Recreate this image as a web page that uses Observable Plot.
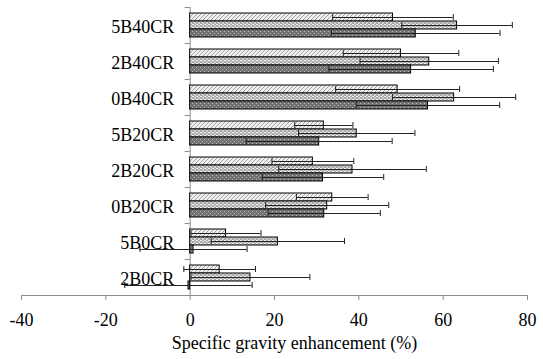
<!DOCTYPE html>
<html><head><meta charset="utf-8">
<script src="https://cdn.jsdelivr.net/npm/d3@7"></script>
<script src="https://cdn.jsdelivr.net/npm/@observablehq/plot@0.6"></script>
<style>
body{margin:0;background:#fff}
svg, svg text{font-family:"Liberation Serif","Times New Roman",serif}
</style>
</head><body><div id="chart"></div>
<script>
// Categories, top to bottom
const categories = ["5B40CR","2B40CR","0B40CR","5B20CR","2B20CR","0B20CR","5B0CR","2B0CR"];
const seriesNames = ["Series 1","Series 2","Series 3"];
// Mean values (%) per series, in category order
const series1 = [48.1, 50.0, 49.2, 31.7, 29.1, 33.7, 8.5, 7.0];
const series2 = [63.3, 56.7, 62.6, 39.5, 38.5, 32.5, 20.8, 14.3];
const series3 = [53.5, 52.4, 56.4, 30.6, 31.5, 31.8, 0.8, -0.4];
// Error (±) per series
const error1 = [14.3, 13.7, 14.7, 6.9, 9.7, 8.5, 8.3, 8.5];
const error2 = [13.1, 16.4, 14.6, 13.8, 17.5, 14.6, 15.8, 14.1];
const error3 = [20.0, 19.5, 17.0, 17.3, 14.4, 13.3, 12.7, 15.1];
const xTicks = [-40, -20, 0, 20, 40, 60, 80];
const xLabel = "Specific gravity enhancement (%)";

const valueSets = [series1, series2, series3];
const errorSets = [error1, error2, error3];
const fills = {"Series 1": "url(#pat1)", "Series 2": "url(#pat2)", "Series 3": "url(#pat3)"};

const rows = [];
categories.forEach((c, i) => {
  seriesNames.forEach((s, j) => {
    rows.push({cat: c, series: s, value: valueSets[j][i], err: errorSets[j][i]});
  });
});

const axisGray = "#8c8c8c";
const serif = "'Liberation Serif','Times New Roman',serif";

const chart = Plot.plot({
  width: 543,
  height: 359,
  marginTop: 4,
  marginBottom: 62,
  marginLeft: 21,
  marginRight: 16,
  style: {fontFamily: serif, fontSize: "18px", background: "white", color: "black"},
  x: {domain: [-40, 80], label: null},
  y: {domain: seriesNames, axis: null, paddingInner: 0, paddingOuter: 0.74},
  fy: {domain: categories, axis: null, padding: 0},
  color: {type: "identity"},
  marks: [
    Plot.ruleX([0], {stroke: axisGray}),
    Plot.barX(rows, {fy: "cat", y: "series", x: "value", fill: d => fills[d.series], stroke: "black", strokeWidth: 1}),
    Plot.ruleY(rows, {fy: "cat", y: "series", x1: d => d.value - d.err, x2: d => d.value + d.err, stroke: "#222", strokeWidth: 1}),
    Plot.tickX(rows, {fy: "cat", y: "series", x: d => d.value - d.err, stroke: "#222", insetTop: 1, insetBottom: 1}),
    Plot.tickX(rows, {fy: "cat", y: "series", x: d => d.value + d.err, stroke: "#222", insetTop: 1, insetBottom: 1}),
    Plot.text(categories, {fy: d => d, x: () => 0, text: d => d, textAnchor: "end", dx: -16, dy: 2, fontSize: 18, fontFamily: serif, fill: "black"}),
    Plot.axisX({ticks: xTicks, tickFormat: d => String(d), tickSize: 5, tickPadding: 13, stroke: axisGray, fill: "black", fontSize: 18, fontFamily: serif, label: null}),
    Plot.text([xLabel], {fy: () => categories[categories.length - 1], frameAnchor: "bottom", text: d => d, dy: 53, dx: 20, fontSize: 18, fontFamily: serif, fill: "black"})
  ]
});

const svg = d3.select(chart.tagName.toLowerCase() === "svg" ? chart : chart.querySelector("svg"));
const defs = svg.insert("defs", ":first-child");
// Pattern 1: light diagonal hatch
const p1 = defs.append("pattern").attr("id", "pat1").attr("patternUnits", "userSpaceOnUse").attr("width", 4).attr("height", 4);
p1.append("rect").attr("width", 4).attr("height", 4).attr("fill", "#f0f0f0");
p1.append("path").attr("d", "M0,4 L4,0 M-1,1 L1,-1 M3,5 L5,3").attr("stroke", "#9a9a9a").attr("stroke-width", 0.9);
// Pattern 2: light brick/checker
const p2 = defs.append("pattern").attr("id", "pat2").attr("patternUnits", "userSpaceOnUse").attr("width", 4).attr("height", 3);
p2.append("rect").attr("width", 4).attr("height", 3).attr("fill", "#a8a8a8");
p2.append("rect").attr("x", 0).attr("y", 0).attr("width", 2).attr("height", 1).attr("fill", "#f4f4f4");
p2.append("rect").attr("x", 2).attr("y", 1.5).attr("width", 2).attr("height", 1).attr("fill", "#f4f4f4");
// Pattern 3: dark gray with light dots
const p3 = defs.append("pattern").attr("id", "pat3").attr("patternUnits", "userSpaceOnUse").attr("width", 4).attr("height", 4);
p3.append("rect").attr("width", 4).attr("height", 4).attr("fill", "#727272");
p3.append("rect").attr("x", 0).attr("y", 0).attr("width", 1).attr("height", 1).attr("fill", "#b8b8b8");
p3.append("rect").attr("x", 2).attr("y", 2).attr("width", 1).attr("height", 1).attr("fill", "#b8b8b8");

// Axis line and category boundary ticks from the plot's own scales
const xs = chart.scale("x");
const fys = chart.scale("fy");
const x0 = xs.apply(0);
const last = categories[categories.length - 1];
const yBottom = fys.apply(last) + fys.bandwidth;
const g = svg.append("g").attr("stroke", axisGray).attr("stroke-width", 1);
g.append("line").attr("x1", xs.apply(xTicks[0])).attr("x2", xs.apply(xTicks[xTicks.length - 1]))
  .attr("y1", yBottom + 0.5).attr("y2", yBottom + 0.5);
categories.forEach(c => {
  const yy = fys.apply(c) + 0.5;
  g.append("line").attr("x1", x0 - 5).attr("x2", x0).attr("y1", yy).attr("y2", yy);
});

document.getElementById("chart").appendChild(chart);
</script>
</body></html>
